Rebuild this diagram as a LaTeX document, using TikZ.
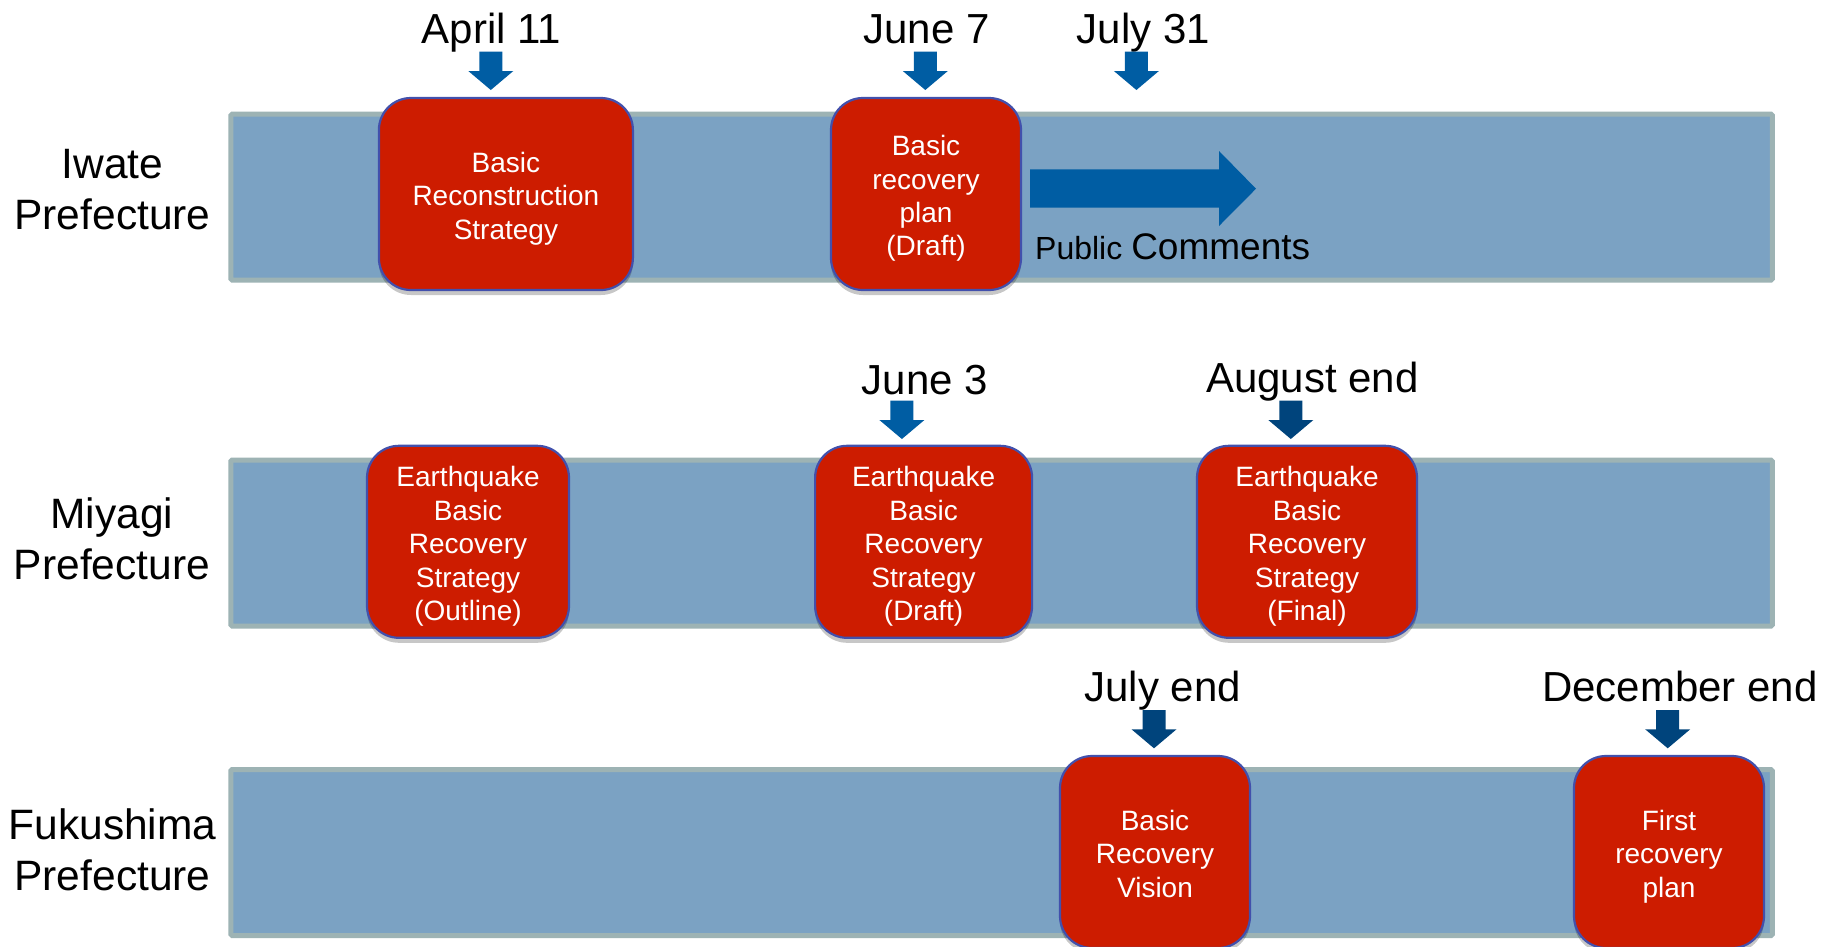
\documentclass[tikz,border=0pt]{standalone}
\usepackage{fontspec}
\setmainfont{Liberation Sans}
\usetikzlibrary{shadows}
\definecolor{boxred}{RGB}{205,28,0}
\definecolor{boxedge}{RGB}{66,80,172}
\definecolor{bandfill}{RGB}{123,162,195}
\definecolor{bandedge}{RGB}{157,179,180}
\definecolor{arrblue}{RGB}{0,93,163}
\definecolor{arrdark}{RGB}{0,68,124}
\newcommand{\tstr}{\rule{0pt}{29.5pt}}
\begin{document}
\begin{tikzpicture}[x=1pt,y=-1pt,
  band/.style={draw=bandedge,fill=bandfill,line width=5pt,inner sep=0pt,
    minimum width=1541.7pt,minimum height=166pt,rounded corners=1.5pt},
  evbox/.style={draw=boxedge,fill=boxred,line width=2.2pt,rounded corners=32pt,
    minimum height=192pt,inner sep=0pt,text=white,align=center,
    font=\fontsize{28}{33.4}\selectfont,
    drop shadow={shadow xshift=0pt,shadow yshift=-5pt,opacity=0.22,fill=black}},
  pref/.style={align=center,inner sep=0pt,font=\fontsize{42.5}{51}\selectfont},
  datelbl/.style={anchor=base,inner sep=0pt,font=\fontsize{42}{50}\selectfont},
  downarr/.pic={\fill[#1] (-11.5,0) -- (11.5,0) -- (11.5,19.3) -- (22.5,19.3)
    -- (0,38.3) -- (-22.5,19.3) -- (-11.5,19.3) -- cycle;}
]
\useasboundingbox[fill=white] (0,0) rectangle (1839,946);

% bands
\node[band] (iwateband) at (1001.6,197.2) {};
\node[band] (miyagiband) at (1001.6,543) {};
\node[band] (fukuband) at (1001.6,852.5) {};

% prefecture labels
\node[pref] (iwate) at (112.5,189.4) {Iwate\\Prefecture};
\node[pref] (miyagi) at (112,538.9) {Miyagi\\Prefecture};
\node[pref] (fuku) at (112.5,850) {Fukushima\\Prefecture};

% Iwate row
\node[evbox,minimum width=254pt] (i1) at (505.9,194) {\tstr Basic\\Reconstruction\\Strategy};
\node[evbox,minimum width=190pt] (i2) at (926,194) {\tstr Basic\\recovery\\plan\\(Draft)};
\fill[arrblue] (1030,169.3) -- (1219,169.3) -- (1219,151) -- (1256,188.7)
  -- (1219,226) -- (1219,207.7) -- (1030,207.7) -- cycle;
\node[anchor=base west,inner sep=0pt] (pc) at (1035,259)
  {\fontsize{32}{38}\selectfont Public \fontsize{37}{44}\selectfont Comments};

\node[datelbl] (d1) at (491.4,43) {April 11};
\node[datelbl] (d2) at (926.5,43) {June 7};
\node[datelbl] (d3) at (1143.5,43) {July 31};
\pic at (490.8,51.7) {downarr=arrblue};
\pic at (925.3,51.7) {downarr=arrblue};
\pic at (1136.4,51.7) {downarr=arrblue};

% Miyagi row
\node[evbox,minimum width=202pt] (m1) at (468,541.8) {\tstr Earthquake\\Basic\\Recovery\\Strategy\\(Outline)};
\node[evbox,minimum width=217pt] (m2) at (923.6,541.8) {\tstr Earthquake\\Basic\\Recovery\\Strategy\\(Draft)};
\node[evbox,minimum width=220pt] (m3) at (1307,541.8) {\tstr Earthquake\\Basic\\Recovery\\Strategy\\(Final)};

\node[datelbl] (d4) at (924.7,394) {June 3};
\node[datelbl] (d5) at (1312.4,392) {August end};
\pic at (901.9,400.7) {downarr=arrblue};
\pic at (1290.8,400.7) {downarr=arrdark};

% Fukushima row
\node[evbox,minimum width=190pt] (f1) at (1155,852) {\rule{0pt}{24pt}Basic\\Recovery\\Vision};
\node[evbox,minimum width=190pt] (f2) at (1669,852) {\tstr First\\recovery\\plan};

\node[datelbl] (d6) at (1162.8,701) {July end};
\node[datelbl] (d7) at (1680,701) {December end};
\pic at (1154,710) {downarr=arrdark};
\pic at (1667.7,710) {downarr=arrdark};
\end{tikzpicture}
\end{document}
